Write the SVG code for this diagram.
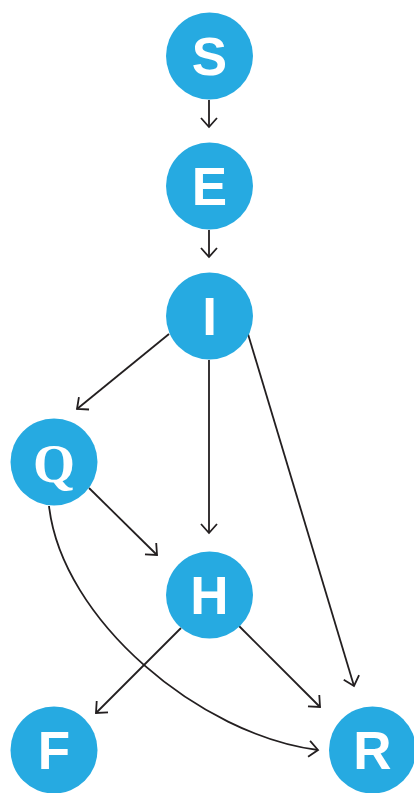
<svg xmlns="http://www.w3.org/2000/svg" width="414" height="793" viewBox="0 0 414 793">
<style>
.node circle{fill:#26aae1}
.node text{fill:#fff;font-family:"Liberation Sans",Arial,sans-serif;font-weight:bold;font-size:53px;text-anchor:middle}
.node text.serif{font-family:"Liberation Serif","Times New Roman",serif;font-size:54px}
.edge{fill:none;stroke:#231f20;stroke-width:1.8;marker-end:url(#arr)}
</style>
<defs>
<marker id="arr" markerUnits="userSpaceOnUse" markerWidth="20" markerHeight="20" viewBox="-12 -10 14 20" refX="0" refY="0" orient="auto">
<path d="M-9,-8 L0,0 L-9,8" fill="none" stroke="#231f20" stroke-width="1.8"/>
</marker>
</defs>
<rect width="414" height="793" fill="#fff"/>
<g id="connectors">
<path class="edge" d="M209,100 L209,127"/>
<path class="edge" d="M209,230 L209,257"/>
<path class="edge" d="M169,334 L77,409"/>
<path class="edge" d="M209,360 L209,533"/>
<path class="edge" d="M248,334 L354,686"/>
<path class="edge" d="M89,488 L157,555"/>
<path class="edge" d="M49,506 C62,620 200,735 318,750"/>
<path class="edge" d="M181,628 L96,713"/>
<path class="edge" d="M239,626 L320,707"/>
</g>
<g id="S" class="node"><circle cx="209.5" cy="56" r="43.5"/><text x="209.5" y="75">S</text></g>
<g id="E" class="node"><circle cx="209.5" cy="186" r="43.5"/><text x="209.5" y="205">E</text></g>
<g id="I" class="node"><circle cx="209.5" cy="316" r="43.5"/><text x="209.5" y="335">I</text></g>
<g id="Q" class="node"><circle cx="54" cy="462" r="43.5"/><text class="serif" x="54" y="482">Q</text></g>
<g id="H" class="node"><circle cx="209.5" cy="595" r="43.5"/><text x="209.5" y="614">H</text></g>
<g id="F" class="node"><circle cx="54" cy="750" r="43.5"/><text x="54" y="769">F</text></g>
<g id="R" class="node"><circle cx="372.5" cy="750" r="43.5"/><text x="372.5" y="769">R</text></g>
</svg>
